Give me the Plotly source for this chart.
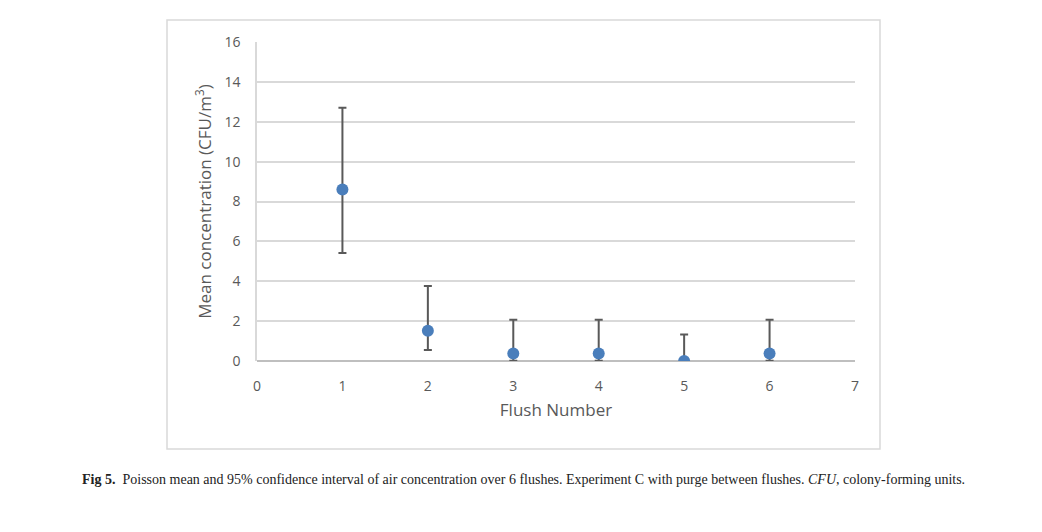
import plotly.graph_objects as go

flush = [1, 2, 3, 4, 5, 6]
mean_conc = [8.6, 1.52, 0.38, 0.38, 0.0, 0.38]
upper_ci = [12.7, 3.76, 2.07, 2.07, 1.33, 2.07]
lower_ci = [5.42, 0.55, 0.01, 0.01, 0.0, 0.01]

err_plus = [u - m for u, m in zip(upper_ci, mean_conc)]
err_minus = [m - l for m, l in zip(mean_conc, lower_ci)]

x_ticks = [0, 1, 2, 3, 4, 5, 6, 7]
y_ticks = [0, 2, 4, 6, 8, 10, 12, 14, 16]

caption_bold = "Fig 5."
caption_text = ("Poisson mean and 95% confidence interval of air concentration over 6 flushes. "
                "Experiment C with purge between flushes. <i>CFU</i>, colony-forming units.")

fig = go.Figure()
fig.add_trace(go.Scatter(
    x=flush, y=mean_conc, mode="markers",
    marker=dict(color="#4a7ebb", size=12),
    error_y=dict(type="data", symmetric=False, array=err_plus, arrayminus=err_minus,
                 color="#595959", thickness=2, width=4),
    showlegend=False,
))

tick_font = dict(family="Open Sans, Liberation Sans, sans-serif", size=14, color="#595959")
title_font = dict(family="Open Sans, sans-serif", size=17, color="#595959")
fig.update_layout(
    width=1042, height=532,
    margin=dict(l=249, r=195, t=34, b=179),
    paper_bgcolor="white", plot_bgcolor="white",
    xaxis=dict(range=[0, 7], tickvals=x_ticks, showgrid=False, zeroline=False,
               showline=False, ticks="outside", ticklen=12, tickcolor="rgba(0,0,0,0)",
               tickfont=tick_font,
               title=dict(text="Flush Number", font=title_font, standoff=10)),
    yaxis=dict(range=[0, 16], tickvals=y_ticks, showgrid=True, gridcolor="#d9d9d9",
               gridwidth=1.5, zeroline=True, zerolinecolor="#bfbfbf", zerolinewidth=1.5,
               showline=True, linecolor="#d9d9d9", linewidth=1.5,
               ticks="outside", ticklen=12, tickcolor="rgba(0,0,0,0)",
               tickfont=tick_font,
               title=dict(text="Mean concentration (CFU/m<sup>3</sup>)", font=title_font,
                          standoff=8)),
    shapes=[dict(type="rect", xref="paper", yref="paper",
                 x0=-0.1505, x1=1.0418, y0=-0.276, y1=1.069,
                 line=dict(color="#d9d9d9", width=1.5), fillcolor="rgba(0,0,0,0)")],
    annotations=[dict(xref="paper", yref="paper", x=-0.296, y=-0.373,
                      xanchor="left", yanchor="middle", showarrow=False,
                      text="<b>" + caption_bold + "</b>  " + caption_text,
                      font=dict(family="Liberation Serif, serif", size=14, color="#222222"))],
)

fig.write_html("out.html")
